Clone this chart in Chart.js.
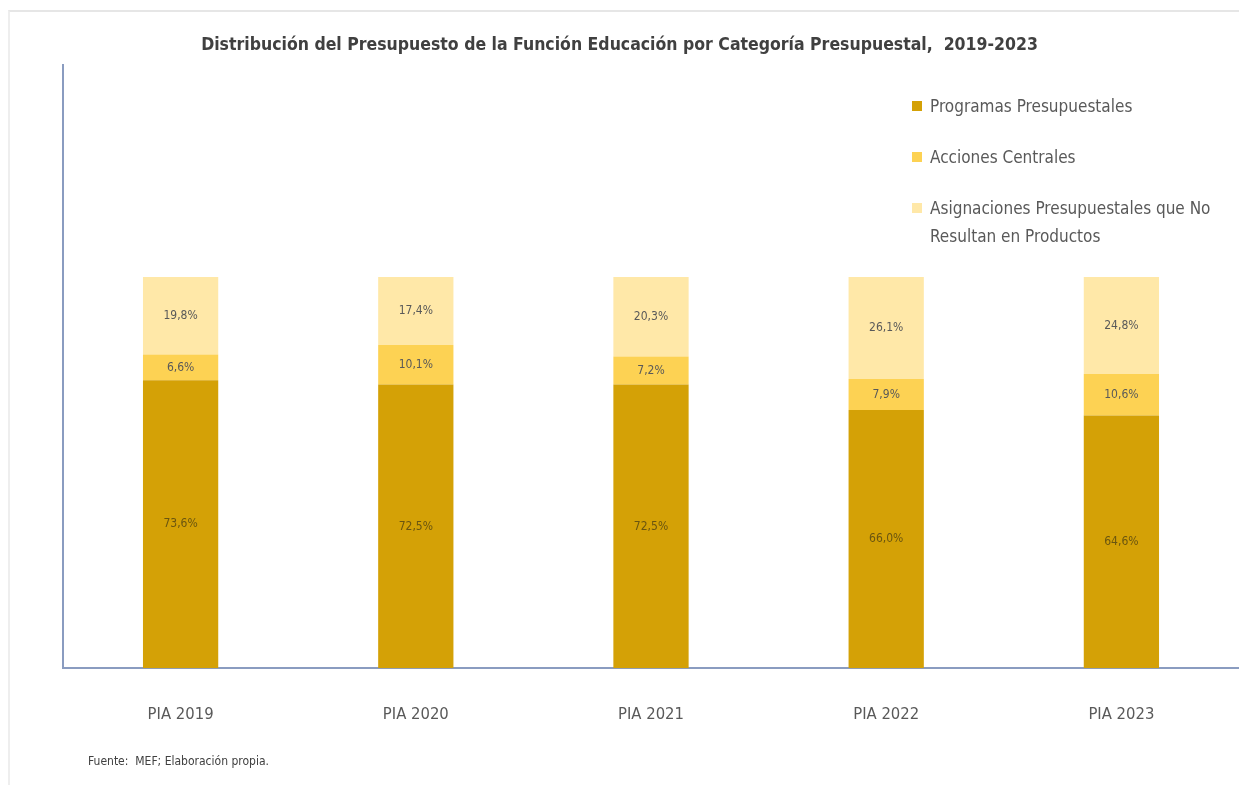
<!DOCTYPE html>
<html>
<head>
<meta charset="utf-8">
<script src="https://cdn.jsdelivr.net/npm/chart.js@4.4.1/dist/chart.umd.min.js"></script>
<style>
  body { margin: 0; background: #fff; font-family: "Liberation Sans Narrow", "DejaVu Sans Condensed", sans-serif; }
  #wrap { position: relative; width: 1239px; height: 785px; overflow: hidden; }
  #frame { position: absolute; left: 8px; top: 10px; right: 0; bottom: 0; border-top: 2px solid #e6e6e6; border-left: 2px solid #eeeeee; }
  #title { position: absolute; left: 0; width: 1239px; top: 34px; text-align: center; font-weight: bold; font-size: 17.5px; color: #404040; }
  #legend { position: absolute; left: 912px; top: 92px; font-size: 17px; color: #595959; }
  .item { position: relative; padding-left: 18px; line-height: 28px; margin-bottom: 23px; }
  .box { position: absolute; left: 0; top: 9px; width: 10px; height: 10px; }
  #note { position: absolute; left: 88px; top: 754px; font-size: 12px; color: #404040; }
  canvas { position: absolute; left: 0; top: 0; }
</style>
</head>
<body>
<div id="wrap">
  <div id="frame"></div>
  <canvas id="budgetChart" width="1239" height="785"></canvas>
  <div id="title">Distribución del Presupuesto de la Función Educación por Categoría Presupuestal,&nbsp; 2019-2023</div>
  <div id="legend"></div>
  <div id="note">Fuente:&nbsp; MEF; Elaboración propia.</div>
</div>
<script>
const years = ["PIA 2019", "PIA 2020", "PIA 2021", "PIA 2022", "PIA 2023"];
const programas = [73.6, 72.5, 72.5, 66.0, 64.6];
const acciones = [6.6, 10.1, 7.2, 7.9, 10.6];
const asignaciones = [19.8, 17.4, 20.3, 26.1, 24.8];
const seriesNames = ["Programas Presupuestales", "Acciones Centrales", "Asignaciones Presupuestales que No Resultan en Productos"];
const colors = ["#D4A106", "#FDD253", "#FFE8A8"];
const legendLines = ["Programas Presupuestales", "Acciones Centrales", "Asignaciones Presupuestales que No<br>Resultan en Productos"];

// html legend
const legend = document.getElementById("legend");
legendLines.forEach((txt, i) => {
  const d = document.createElement("div");
  d.className = "item";
  d.innerHTML = '<span class="box" style="background:' + colors[i] + '"></span>' + txt;
  legend.appendChild(d);
});

// percentage labels in the middle of every segment
const segLabels = {
  id: "segLabels",
  afterDatasetsDraw(chart) {
    const ctx = chart.ctx;
    ctx.save();
    ctx.font = "12px 'Liberation Sans Narrow', 'DejaVu Sans Condensed', sans-serif";
    ctx.textAlign = "center";
    ctx.textBaseline = "middle";
    chart.data.datasets.forEach((ds, i) => {
      chart.getDatasetMeta(i).data.forEach((bar, j) => {
        const p = bar.getProps(["x", "y", "base"], true);
        ctx.fillStyle = i === 0 ? "#6a5510" : "#595959";
        ctx.fillText(ds.data[j].toFixed(1).replace(".", ",") + "%", p.x, (p.y + p.base) / 2);
      });
    });
    ctx.restore();
  }
};

new Chart(document.getElementById("budgetChart"), {
  type: "bar",
  data: {
    labels: years,
    datasets: [
      { label: seriesNames[0], data: programas, backgroundColor: colors[0] },
      { label: seriesNames[1], data: acciones, backgroundColor: colors[1] },
      { label: seriesNames[2], data: asignaciones, backgroundColor: colors[2] },
    ],
  },
  options: {
    responsive: false,
    animation: false,
    layout: { padding: { left: 55, top: 65, right: 0, bottom: 31 } },
    plugins: { legend: { display: false }, tooltip: { enabled: false } },
    datasets: { bar: { barPercentage: 0.32, categoryPercentage: 1 } },
    scales: {
      x: {
        stacked: true,
        grid: { display: false },
        border: { color: "#8A9CC0", width: 2 },
        ticks: {
          padding: 29,
          color: "#595959",
          font: { family: "'Liberation Sans Narrow', 'DejaVu Sans Condensed', sans-serif", size: 16.5 },
        },
      },
      y: {
        stacked: true,
        min: 0,
        max: 154.2,
        grid: { display: false },
        border: { color: "#8A9CC0", width: 2 },
        ticks: { display: false },
      },
    },
  },
  plugins: [segLabels],
});
</script>
</body>
</html>
